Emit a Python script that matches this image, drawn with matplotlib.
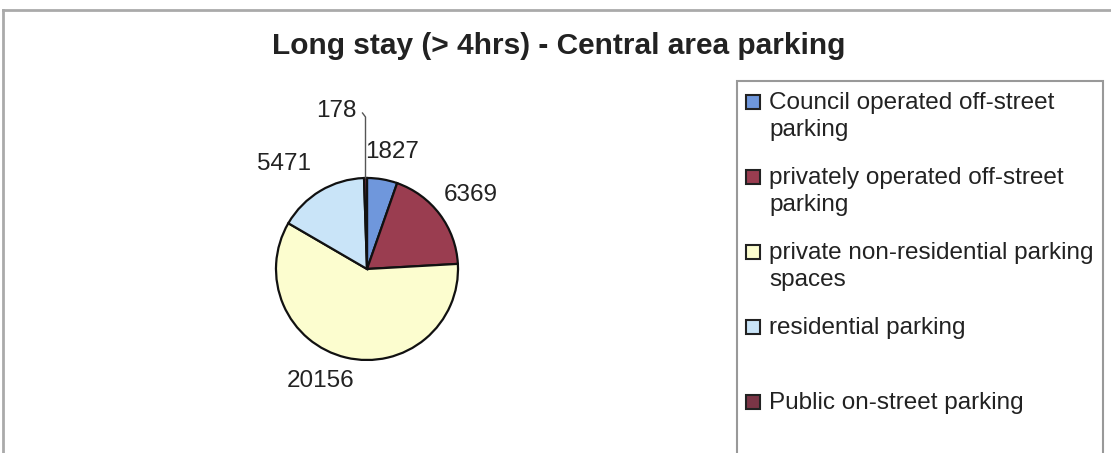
"""Long stay central area parking pie chart."""

import matplotlib.pyplot as plt
from matplotlib.patches import Rectangle
from matplotlib.lines import Line2D
import numpy as np

categories = [
    "Council operated off-street\nparking",
    "privately operated off-street\nparking",
    "private non-residential parking\nspaces",
    "residential parking\n ",
    "Public on-street parking",
]
values = [1827, 6369, 20156, 5471, 178]
colors = ["#6f97dc", "#9a3d50", "#fcfdcf", "#c9e4f8", "#7b3546"]

W, H = 1111, 453
fig = plt.figure(figsize=(W / 100, H / 100), dpi=100)
ax = fig.add_axes([0, 0, 1, 1])
ax.axis("off")


def Y(py):
    # pixel row (from top) -> data y
    return H - py


font = "Liberation Sans"
tcol = "#222222"

# outer chart frame
ax.add_line(Line2D([3, W], [Y(10), Y(10)], color="#aaaaaa", lw=2))
ax.add_line(Line2D([3, 3], [Y(10), 0], color="#aaaaaa", lw=2))

ax.text(559, Y(54), "Long stay (> 4hrs) - Central area parking", ha="center",
        va="baseline", fontsize=21.5, fontweight="bold", family=font, color=tcol)

cx, cy, r = 367, Y(269), 91
wedges, _ = ax.pie(values, colors=colors, startangle=90, counterclock=False,
                   center=(cx, cy), radius=r,
                   wedgeprops=dict(edgecolor="#111111", linewidth=1.6))
ax.set_xlim(0, W)
ax.set_ylim(0, H)
ax.set_aspect("equal")

# value labels
label_dist = [1.30, 1.35, 1.27, 1.34, 1.74]
label_shift = [(5, 0), (6, 0), (-19, 0), (-20, 0), (-28, 0)]
for w, v, d, (sx, sy) in zip(wedges, values, label_dist, label_shift):
    mid = np.deg2rad((w.theta1 + w.theta2) / 2)
    lx = cx + d * r * np.cos(mid) + sx
    ly = cy + d * r * np.sin(mid) + sy
    ax.text(lx, ly, str(v), ha="center", va="center", fontsize=17.5, family=font,
            color=tcol)

# leader line for the small slice
last = wedges[-1]
mid = np.deg2rad((last.theta1 + last.theta2) / 2)
ex = cx + r * np.cos(mid)
ax.add_line(Line2D([ex - 3, ex, ex], [Y(113), Y(117), cy + r * np.sin(mid)],
                   color="#555555", lw=1))

# legend box
ax.add_patch(Rectangle((737, -20), 366, Y(81) + 20, facecolor="white",
                       edgecolor="#999999", lw=1.5))
for i, (lab, col) in enumerate(zip(categories, colors)):
    yc = 102 + 75 * i
    ax.add_patch(Rectangle((746, Y(yc + 7)), 14, 14, facecolor=col,
                           edgecolor="#222222", lw=1.5))
    ax.text(769, Y(yc - 10), lab, ha="left", va="top", fontsize=17.5,
            family=font, color=tcol, linespacing=1.3)

fig.savefig("out.png", dpi=100, facecolor="white")
